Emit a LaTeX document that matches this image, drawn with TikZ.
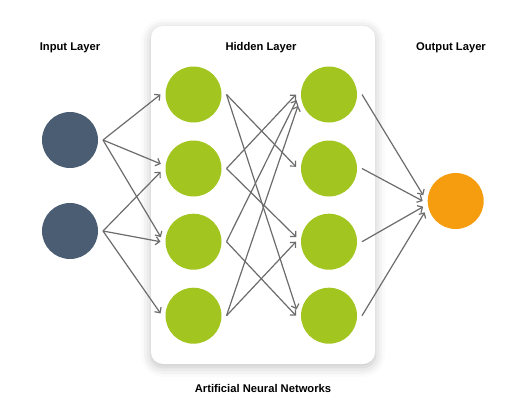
\documentclass[tikz,border=0pt]{standalone}
\usepackage{fontspec}
\setmainfont{Liberation Sans}
\usetikzlibrary{arrows.meta,shadows.blur}
\definecolor{inblue}{HTML}{4B5D73}
\definecolor{hidgreen}{HTML}{A3C520}
\definecolor{outorange}{HTML}{F59C0F}
\definecolor{linkgray}{HTML}{6C6C6C}

\begin{document}
\begin{tikzpicture}[x=1pt,y=-1pt,
  neuron/.style={circle,minimum size=56pt,inner sep=0pt,outer sep=5pt},
  layer/.style={anchor=base,font=\fontsize{11.2}{13}\selectfont\bfseries},
  link/.style={draw=linkgray,line width=1.2pt,-{Straight Barb[length=4pt,width=8pt]}}]
\useasboundingbox (0,0) rectangle (527,405);
\fill[white,rounded corners=12pt,blur shadow={shadow xshift=0pt,shadow yshift=-3pt,shadow blur radius=10pt,shadow opacity=25}] (151,26) rectangle (375,364);
\node[layer] (tIn) at (70,50.7) {Input Layer};
\node[layer] (tHid) at (261,50.7) {Hidden Layer};
\node[layer] (tOut) at (451,50.7) {Output Layer};
\node[layer] (tAnn) at (263,392.3) {Artificial Neural Networks};
\node[neuron,fill=inblue] (I1) at (70,140) {};
\node[neuron,fill=inblue] (I2) at (70,231) {};
\node[neuron,fill=hidgreen] (H1a) at (193.5,94.5) {};
\node[neuron,fill=hidgreen] (H1b) at (193.5,168.5) {};
\node[neuron,fill=hidgreen] (H1c) at (193.5,241.7) {};
\node[neuron,fill=hidgreen] (H1d) at (193.5,315.7) {};
\node[neuron,fill=hidgreen] (H2a) at (329,94.5) {};
\node[neuron,fill=hidgreen] (H2b) at (329,168.5) {};
\node[neuron,fill=hidgreen] (H2c) at (329,241.7) {};
\node[neuron,fill=hidgreen] (H2d) at (329,315.7) {};
\node[neuron,fill=outorange] (O) at (455.7,201) {};
\draw [link] (I1.east) -- (H1a.180);
\draw [link] (I1.east) -- (H1b.172);
\draw [link] (I1.east) -- (H1c.172);
\draw [link] (I2.east) -- (H1b.186);
\draw [link] (I2.east) -- (H1c.180);
\draw [link] (I2.east) -- (H1d.176);
\draw [link] (H1a.east) -- (H2b.177);
\draw [link] (H1a.east) -- (H2d.169);
\draw [link] (H1b.east) -- (H2a.180);
\draw [link] (H1b.east) -- (H2c.172);
\draw [link] (H1c.east) -- (H2a.190);
\draw [link] (H1c.east) -- (H2d.180);
\draw [link] (H1d.east) -- (H2a.200);
\draw [link] (H1d.east) -- (H2c.180);
\draw [link] (H2a.east) -- (O.170);
\draw [link] (H2b.east) -- (O.180);
\draw [link] (H2c.east) -- (O.190);
\draw [link] (H2d.east) -- (O.200);
\end{tikzpicture}
\end{document}
